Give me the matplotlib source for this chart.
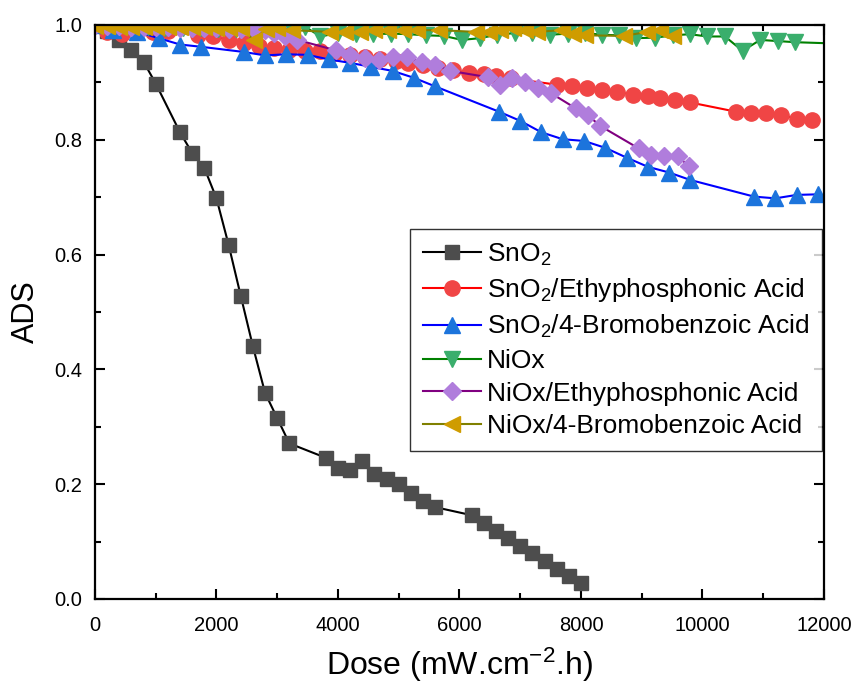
import matplotlib
matplotlib.use("Agg")
import matplotlib.pyplot as plt
from matplotlib.ticker import MultipleLocator

plt.rcParams['font.family'] = ['Liberation Sans', 'DejaVu Sans']
plt.rcParams['mathtext.fontset'] = 'custom'
plt.rcParams['mathtext.rm'] = 'Liberation Sans'
plt.rcParams['mathtext.default'] = 'regular'

# dose values (mW.cm-2.h) and ADS
sno2_x = [0, 200, 400, 600, 800, 1000, 1400, 1600, 1800, 2000, 2200, 2400, 2600, 2800,
          3000, 3200, 3800, 4000, 4200, 4400, 4600, 4800, 5000, 5200, 5400, 5600, 6200,
          6400, 6600, 6800, 7000, 7200, 7400, 7600, 7800, 8000]
sno2_y = [1.0, 0.99, 0.974, 0.956, 0.936, 0.898, 0.813, 0.777, 0.751, 0.698, 0.617, 0.528,
          0.44, 0.359, 0.315, 0.271, 0.246, 0.229, 0.224, 0.241, 0.217, 0.209, 0.2, 0.184,
          0.171, 0.16, 0.146, 0.132, 0.119, 0.106, 0.093, 0.08, 0.066, 0.053, 0.04, 0.027]

sno2_epa_x = [0, 200, 450, 700, 950, 1200, 1700, 1950, 2200, 2450, 2700, 2950, 3200, 3450,
              3700, 3950, 4200, 4450, 4700, 4950, 5150, 5400, 5650, 5900, 6150, 6400, 6600,
              6850, 7600, 7850, 8100, 8350, 8600, 8850, 9100, 9300, 9550, 9800, 10550, 10800,
              11050, 11300, 11550, 11800]
sno2_epa_y = [1.0, 0.988, 0.985, 0.99, 0.988, 0.99, 0.982, 0.98, 0.974, 0.969, 0.964, 0.96,
              0.956, 0.955, 0.955, 0.951, 0.948, 0.945, 0.94, 0.937, 0.933, 0.93, 0.925, 0.921,
              0.917, 0.915, 0.911, 0.907, 0.896, 0.893, 0.891, 0.887, 0.884, 0.878, 0.876,
              0.872, 0.869, 0.865, 0.849, 0.846, 0.846, 0.843, 0.837, 0.834]

sno2_bba_x = [0, 300, 700, 1050, 1400, 1750, 2450, 2800, 3150, 3500, 3850, 4200, 4550, 4900,
              5250, 5600, 6650, 7000, 7350, 7700, 8050, 8400, 8750, 9100, 9450, 9800, 10850,
              11200, 11550, 11900]
sno2_bba_y = [1.0, 0.991, 0.988, 0.977, 0.966, 0.962, 0.953, 0.947, 0.949, 0.948, 0.94, 0.934,
              0.927, 0.92, 0.908, 0.893, 0.849, 0.833, 0.813, 0.801, 0.798, 0.786, 0.769, 0.753,
              0.743, 0.73, 0.701, 0.698, 0.704, 0.705]

niox_x = [0, 290, 580, 870, 1160, 1450, 1740, 2030, 2320, 2610, 2900, 3190, 3460, 3710, 4000,
          4290, 4580, 4870, 5160, 5450, 5740, 6040, 6330, 6620, 6920, 7200, 7490, 7780, 8060,
          8350, 8630, 8900, 9220, 9520, 9790, 10080, 10370, 10660, 10950, 11240, 11530, 12110]
niox_y = [1.0, 0.998, 0.997, 0.996, 0.995, 0.995, 0.994, 0.993, 0.993, 0.992, 0.992, 0.991,
          0.997, 0.98, 0.986, 0.985, 0.984, 0.985, 0.984, 0.982, 0.981, 0.974, 0.977, 0.983,
          0.986, 0.986, 0.983, 0.985, 0.986, 0.983, 0.982, 0.977, 0.978, 0.982, 0.984, 0.98,
          0.98, 0.955, 0.974, 0.972, 0.97, 0.968]

niox_epa_x = [0, 200, 400, 600, 800, 1000, 1200, 1400, 1600, 1800, 2000, 2200, 2400, 2600,
              2800, 2950, 3130, 3330, 3960, 4200, 4450, 4670, 4900, 5140, 5380, 5600, 5850,
              6470, 6660, 6870, 7080, 7300, 7510, 7910, 8110, 8320, 8950, 9160, 9370, 9590, 9780]
niox_epa_y = [1.0, 0.999, 0.998, 0.997, 0.997, 0.996, 0.996, 0.995, 0.995, 0.994, 0.994, 0.993,
              0.993, 0.992, 0.991, 0.986, 0.98, 0.974, 0.956, 0.948, 0.942, 0.939, 0.945, 0.944,
              0.935, 0.931, 0.92, 0.909, 0.896, 0.907, 0.901, 0.89, 0.881, 0.855, 0.843, 0.824,
              0.785, 0.774, 0.771, 0.771, 0.754]

niox_bba_x = [0, 200, 400, 600, 800, 1000, 1200, 1400, 1600, 1800, 2000, 2200, 2400, 2610,
              2820, 3000, 3240, 3870, 4120, 4360, 4590, 4830, 5070, 5300, 5660, 6280, 6480,
              6670, 6880, 7080, 7270, 7680, 7870, 8070, 8710, 9090, 9300, 9510]
niox_bba_y = [0.998, 0.998, 0.997, 0.997, 0.997, 0.997, 0.996, 0.996, 0.996, 0.996, 0.995,
              0.995, 0.995, 0.974, 0.993, 0.994, 0.991, 0.988, 0.988, 0.988, 0.991, 0.991,
              0.991, 0.991, 0.991, 0.988, 0.988, 0.991, 0.994, 0.991, 0.988, 0.991, 0.985,
              0.982, 0.981, 0.988, 0.991, 0.98]

labels = ['SnO$_2$', 'SnO$_2$/Ethyphosphonic Acid', 'SnO$_2$/4-Bromobenzoic Acid',
          'NiOx', 'NiOx/Ethyphosphonic Acid', 'NiOx/4-Bromobenzoic Acid']

fig = plt.figure(figsize=(8.61, 6.83), dpi=100)
ax = fig.add_axes([0.1103, 0.1230, 0.8467, 0.8404])

ax.plot(sno2_x, sno2_y, '-', color='black', lw=1.5, marker='s', ms=9.5,
        mfc='#4d4d4d', mec='#4d4d4d', label=labels[0])
ax.plot(sno2_epa_x, sno2_epa_y, '-', color='red', lw=1.5, marker='o', ms=11,
        mfc='#f04545', mec='#f04545', label=labels[1])
ax.plot(sno2_bba_x, sno2_bba_y, '-', color='blue', lw=1.5, marker='^', ms=11,
        mfc='#1c74dc', mec='#1c74dc', label=labels[2])
ax.plot(niox_x, niox_y, '-', color='green', lw=1.5, marker='v', ms=11,
        mfc='#3aae6c', mec='#3aae6c', label=labels[3])
ax.plot(niox_epa_x, niox_epa_y, '-', color='purple', lw=1.5, marker='D', ms=9,
        mfc='#b07ddc', mec='#b07ddc', label=labels[4])
ax.plot(niox_bba_x, niox_bba_y, '-', color='olive', lw=1.5, marker='<', ms=11,
        mfc='#cf9c00', mec='#cf9c00', label=labels[5])

ax.set_xlim(0, 12000)
ax.set_ylim(0.0, 1.0)
ax.xaxis.set_major_locator(MultipleLocator(2000))
ax.xaxis.set_minor_locator(MultipleLocator(1000))
ax.yaxis.set_major_locator(MultipleLocator(0.2))
ax.yaxis.set_minor_locator(MultipleLocator(0.1))
ax.yaxis.set_major_formatter(matplotlib.ticker.FormatStrFormatter('%.1f'))
ax.tick_params(which='both', direction='in', top=True, right=True, width=1.5,
               labelsize=14.5)
ax.tick_params(which='major', length=7)
ax.tick_params(which='minor', length=4)
ax.tick_params(axis='x', which='major', pad=12)
ax.tick_params(axis='y', which='major', pad=9)
for sp in ax.spines.values():
    sp.set_linewidth(1.6)

ax.set_xlabel('Dose (mW.cm$^{-2}$.h)', fontsize=23, labelpad=8)
ax.set_ylabel('ADS', fontsize=22, labelpad=10)

leg = ax.legend(loc='upper left', bbox_to_anchor=(0.432, 0.645), fontsize=19,
                frameon=True, fancybox=False, shadow=False, handlelength=2.2,
                handletextpad=0.25, borderpad=0.48, labelspacing=0.33,
                borderaxespad=0)
leg.get_frame().set_edgecolor('black')
leg.get_frame().set_linewidth(1.0)

fig.savefig('out.png', dpi=100)
